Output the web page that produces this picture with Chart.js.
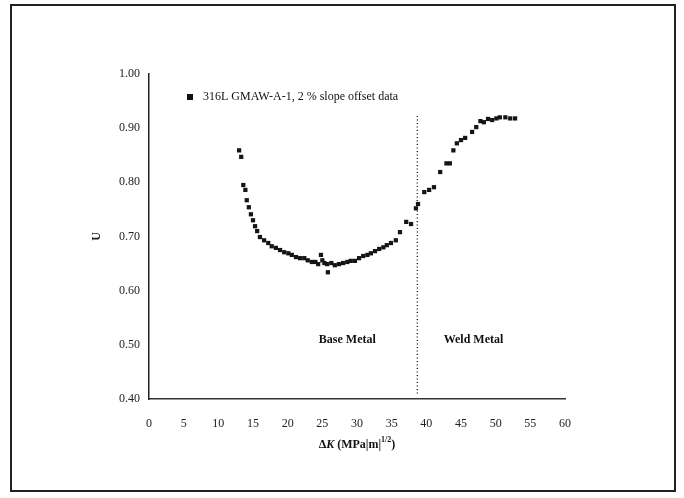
<!DOCTYPE html>
<html>
<head>
<meta charset="utf-8">
<script src="https://cdn.jsdelivr.net/npm/chart.js@4.4.0/dist/chart.umd.min.js"></script>
<style>
    html, body { margin: 0; padding: 0; background: #fff; }
    #wrap { position: relative; width: 684px; height: 498px; }
    #frame {
        position: absolute; left: 10px; top: 4px; width: 662px; height: 484px;
        border: 2px solid #222; pointer-events: none;
    }
</style>
</head>
<body>
<div id="wrap">
    <canvas id="uChart" width="684" height="498"></canvas>
    <div id="frame"></div>
</div>
<script>
// closure level U vs delta K, 316L GMAW-A-1
const seriesLabel = '316L GMAW-A-1, 2 % slope offset data';
const deltaK = [
    13.0, 13.3, 13.6, 13.9, 14.1, 14.4, 14.7, 15.0, 15.3, 15.6,
    16.0, 16.6, 17.2, 17.7, 18.3, 18.9, 19.5, 20.1, 20.6, 21.2,
    21.8, 22.4, 22.9, 23.5, 24.0, 24.4, 24.8, 25.0, 25.3, 25.8,
    25.7, 26.3, 26.8, 27.4, 28.0, 28.6, 29.1, 29.7, 30.3, 30.9,
    31.5, 32.0, 32.6, 33.2, 33.8, 34.3, 34.9, 35.6, 36.2, 37.1,
    37.8, 38.5, 38.8, 39.7, 40.4, 41.1, 42.0, 42.9, 43.4, 43.9,
    44.4, 45.0, 45.6, 46.6, 47.2, 47.8, 48.3, 48.9, 49.5, 50.1,
    50.6, 51.4, 52.1, 52.8
];
const uValues = [
    0.859, 0.847, 0.795, 0.786, 0.767, 0.754, 0.741, 0.730, 0.719, 0.710,
    0.699, 0.693, 0.688, 0.682, 0.679, 0.675, 0.671, 0.669, 0.666, 0.662,
    0.660, 0.660, 0.656, 0.653, 0.653, 0.649, 0.666, 0.656, 0.651, 0.634,
    0.649, 0.651, 0.647, 0.649, 0.651, 0.653, 0.655, 0.655, 0.660, 0.664,
    0.666, 0.669, 0.673, 0.677, 0.680, 0.684, 0.688, 0.693, 0.708, 0.727,
    0.723, 0.752, 0.760, 0.782, 0.786, 0.791, 0.819, 0.835, 0.835, 0.859,
    0.872, 0.878, 0.882, 0.893, 0.902, 0.913, 0.911, 0.917, 0.915, 0.918,
    0.920, 0.920, 0.918, 0.918
];
// base metal / weld metal boundary
const boundaryK = 38.7;
const boundaryU = [0.41, 0.925];
const regionNames = ['Base Metal', 'Weld Metal'];
const regionK = [28.6, 46.8];
const regionU = 0.509;

const points = deltaK.map((k, i) => ({ x: k, y: uValues[i] }));
const boundary = boundaryU.map(u => ({ x: boundaryK, y: u }));

const serif = '"Liberation Serif", "Times New Roman", serif';

const textPlugin = {
    id: 'textPlugin',
    afterDraw(chart) {
        const { ctx, scales: { x, y } } = chart;
        ctx.save();
        ctx.fillStyle = '#111';

        // legend
        ctx.fillRect(187, 94, 6, 6);
        ctx.font = '12px ' + serif;
        ctx.textBaseline = 'middle';
        ctx.textAlign = 'left';
        ctx.fillText(seriesLabel, 203, 97);

        // region names
        ctx.font = 'bold 12px ' + serif;
        ctx.textAlign = 'center';
        regionNames.forEach((name, i) => {
            ctx.fillText(name, x.getPixelForValue(regionK[i]), y.getPixelForValue(regionU));
        });

        // x axis title with superscript
        const parts = [
            { t: '\u0394', f: 'bold 12px ' + serif, dy: 0 },
            { t: 'K', f: 'italic bold 12px ' + serif, dy: 0 },
            { t: ' (MPa|m|', f: 'bold 12px ' + serif, dy: 0 },
            { t: '1/2', f: 'bold 8px ' + serif, dy: -5 },
            { t: ')', f: 'bold 12px ' + serif, dy: 0 }
        ];
        let total = 0;
        parts.forEach(p => { ctx.font = p.f; p.w = ctx.measureText(p.t).width; total += p.w; });
        let cx = 357 - total / 2;
        ctx.textAlign = 'left';
        parts.forEach(p => {
            ctx.font = p.f;
            ctx.fillText(p.t, cx, 445 + p.dy);
            cx += p.w;
        });
        ctx.restore();
    }
};

new Chart(document.getElementById('uChart'), {
    type: 'scatter',
    data: {
        datasets: [{
            label: seriesLabel,
            data: points,
            pointStyle: 'rect',
            pointRadius: 3,
            pointHoverRadius: 3,
            backgroundColor: '#151515',
            borderColor: '#151515',
            borderWidth: 0
        }, {
            type: 'line',
            label: 'boundary',
            data: boundary,
            borderColor: '#222',
            borderWidth: 1.4,
            borderDash: [1.2, 2.3],
            pointRadius: 0,
            fill: false
        }]
    },
    options: {
        responsive: false,
        animation: false,
        layout: { padding: { left: 60, right: 119, top: 74, bottom: 20 } },
        plugins: {
            legend: { display: false },
            tooltip: { enabled: false }
        },
        scales: {
            x: {
                type: 'linear',
                min: 0,
                max: 60,
                afterFit: (scale) => { scale.height = 79; },
                grid: { display: false, drawTicks: false },
                border: { display: true, color: '#333', width: 1.5, dash: [3, 2] },
                ticks: {
                    stepSize: 5,
                    padding: 18,
                    color: '#222',
                    font: { family: serif, size: 12 }
                }
            },
            y: {
                min: 0.4,
                max: 1.0,
                afterFit: (scale) => { scale.width = 89; },
                grid: { display: false, drawTicks: false },
                border: { display: true, color: '#222', width: 1.5, dash: [1.2, 2.3] },
                ticks: {
                    stepSize: 0.1,
                    padding: 9,
                    color: '#222',
                    font: { family: serif, size: 12 },
                    callback: (v) => v.toFixed(2)
                },
                title: {
                    display: true,
                    text: 'U',
                    color: '#222',
                    font: { family: serif, size: 12, weight: 'bold' },
                    padding: { top: 30, bottom: 0 }
                }
            }
        }
    },
    plugins: [textPlugin]
});
</script>
</body>
</html>
